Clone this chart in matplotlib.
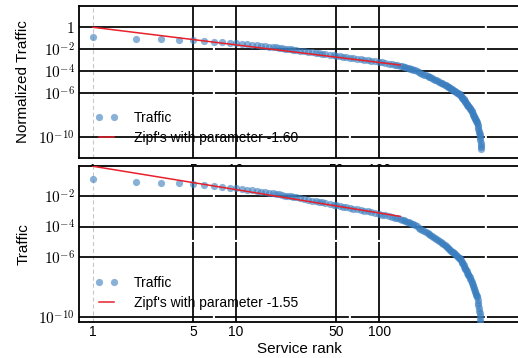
import math
import matplotlib
matplotlib.use("Agg")
import matplotlib.pyplot as plt
from matplotlib.ticker import NullLocator

plt.rcParams["font.family"] = ["Liberation Sans", "DejaVu Sans"]
plt.rcParams["mathtext.fontset"] = "cm"
plt.rcParams["lines.scale_dashes"] = False

# service rank and log10 of its traffic
rank = [1, 2, 3, 4, 5, 6, 7, 8, 9, 10,
        11, 12, 13, 14, 15, 16, 17, 18, 19, 20,
        21, 22, 23, 24, 25, 26, 28, 30, 32, 34,
        36, 38, 40, 42, 45, 48, 50, 53, 56, 59,
        62, 66, 70, 74, 78, 83, 88, 94, 100, 105,
        110, 116, 122, 128, 134, 140, 144, 148, 152, 156,
        160, 165, 169, 173, 178, 183, 188, 194, 200, 206,
        212, 218, 223, 227, 232, 238, 244, 250, 256, 262,
        268, 274, 280, 286, 292, 299, 304, 309, 314, 319,
        324, 329, 334, 339, 344, 349, 354, 359, 364, 368,
        372, 376, 380, 384, 388, 392, 396, 400, 404, 408,
        412, 416, 420, 424, 428, 433, 437, 441, 445, 449,
        453, 457, 461, 465, 469, 473, 477, 481, 484, 487,
        490, 493, 496, 499, 502, 505, 508, 509, 510, 511,
        512, 513]
traffic_exp = [-0.85, -1.05, -1.08, -1.12, -1.18, -1.25, -1.30, -1.36, -1.42, -1.47,
               -1.52, -1.564, -1.606, -1.644, -1.68, -1.723, -1.763, -1.80, -1.836, -1.87,
               -1.906, -1.94, -1.973, -2.005, -2.035, -2.064, -2.118, -2.17, -2.222, -2.272,
               -2.318, -2.362, -2.404, -2.443, -2.5, -2.553, -2.586, -2.633, -2.679, -2.722,
               -2.762, -2.81, -2.86, -2.905, -2.949, -2.999, -3.046, -3.1, -3.15, -3.201,
               -3.249, -3.305, -3.357, -3.407, -3.455, -3.5, -3.547, -3.592, -3.636, -3.679,
               -3.721, -3.772, -3.812, -3.85, -3.923, -3.995, -4.064, -4.145, -4.223, -4.3,
               -4.373, -4.445, -4.503, -4.55, -4.613, -4.687, -4.76, -4.83, -4.899, -4.966,
               -5.032, -5.096, -5.159, -5.22, -5.281, -5.35, -5.414, -5.477, -5.539, -5.6,
               -5.66, -5.718, -5.777, -5.833, -5.89, -5.946, -6.001, -6.055, -6.108, -6.15,
               -6.236, -6.321, -6.406, -6.49, -6.573, -6.654, -6.735, -6.816, -6.895, -6.974,
               -7.052, -7.129, -7.206, -7.282, -7.357, -7.45, -7.553, -7.657, -7.758, -7.859,
               -7.958, -8.056, -8.154, -8.251, -8.348, -8.444, -8.538, -8.631, -8.7, -8.88,
               -9.055, -9.233, -9.407, -9.58, -9.753, -9.927, -10.1, -10.3, -10.5, -10.7,
               -10.9, -11.1]
traffic = [10.0 ** e for e in traffic_exp]

# fitted zipf lines
zipf_rank = [1, 140]
zipf_top = [1.0, 3.68e-4]      # parameter -1.60
zipf_bottom = [1.0, 4.72e-4]   # parameter -1.55

xticks = [1, 5, 10, 50, 100]
yticks_top = [1, 1e-2, 1e-4, 1e-6, 1e-10]
yticks_bottom = [1e-2, 1e-4, 1e-6, 1e-10]


def ylab(v):
    if v == 1:
        return "$1$"
    return "$10^{%d}$" % round(math.log10(v))


def draw_panel(ax, zipf, zipf_label, yticks, ylim, hdash, vdash, leg_y, xpad):
    ax.set_xscale("log")
    ax.set_yscale("log")
    ax.set_xlim(0.798, 975)
    ax.set_ylim(*ylim)

    ax.axvline(1, color="#c8c8c8", lw=0.8, ls=(0, (3, 2)), zorder=1)
    for x in xticks[1:]:
        ax.axvline(x, color="black", lw=1.25, ls=vdash, zorder=3)
    for y in yticks:
        ax.axhline(y, color="black", lw=1.25, ls=hdash, zorder=3)

    ax.plot(rank, traffic, "o", ms=5.2, color="#3a7ebf", alpha=0.6,
            mec="none", label="Traffic", zorder=4)
    ax.plot(zipf_rank, zipf, color="#e8202a", lw=1.1, label=zipf_label, zorder=5)

    ax.set_xticks(xticks)
    ax.set_xticklabels([str(x) for x in xticks], fontsize=10)
    ax.xaxis.set_minor_locator(NullLocator())
    ax.set_yticks(yticks)
    ax.set_yticklabels([ylab(v) for v in yticks], fontsize=11)
    ax.yaxis.set_minor_locator(NullLocator())
    ax.tick_params(axis="both", length=0)
    ax.tick_params(axis="x", pad=xpad)
    ax.tick_params(axis="y", pad=3)
    for s in ax.spines.values():
        s.set_linewidth(1.3)

    leg = ax.legend(loc="lower left", bbox_to_anchor=(0.036, leg_y), frameon=False,
                    numpoints=2, fontsize=10, handlelength=1.7, handletextpad=1.1,
                    labelspacing=0.4, borderpad=0, borderaxespad=0)
    leg.set_zorder(3.5)


fig = plt.figure(figsize=(5.18, 3.58), dpi=100)
ax1 = fig.add_axes([0.1525, 0.5587, 0.853, 0.4246])
ax2 = fig.add_axes([0.1525, 0.1006, 0.853, 0.4371])

draw_panel(ax1, zipf_top, "Zipf's with parameter -1.60", yticks_top,
           (10 ** -11.9, 10 ** 1.94), (0, (96.4, 1.5)), (0, (44, 1.5, 300, 1)), 0.086, 3.5)
draw_panel(ax2, zipf_bottom, "Zipf's with parameter -1.55", yticks_bottom,
           (10 ** -10.33, 10 ** 0.05), (0, (96.4, 1.5)), (0, (57.6, 1.5, 300, 1)), 0.079, 2.5)

ax1.set_ylabel("Normalized Traffic", fontsize=11)
ax1.yaxis.set_label_coords(-0.11, 0.5)
ax2.set_ylabel("Traffic", fontsize=11)
ax2.yaxis.set_label_coords(-0.11, 0.5)
ax2.set_xlabel("Service rank", fontsize=11)
ax2.xaxis.set_label_coords(0.5, -0.125)

fig.savefig("out.png", dpi=100)
